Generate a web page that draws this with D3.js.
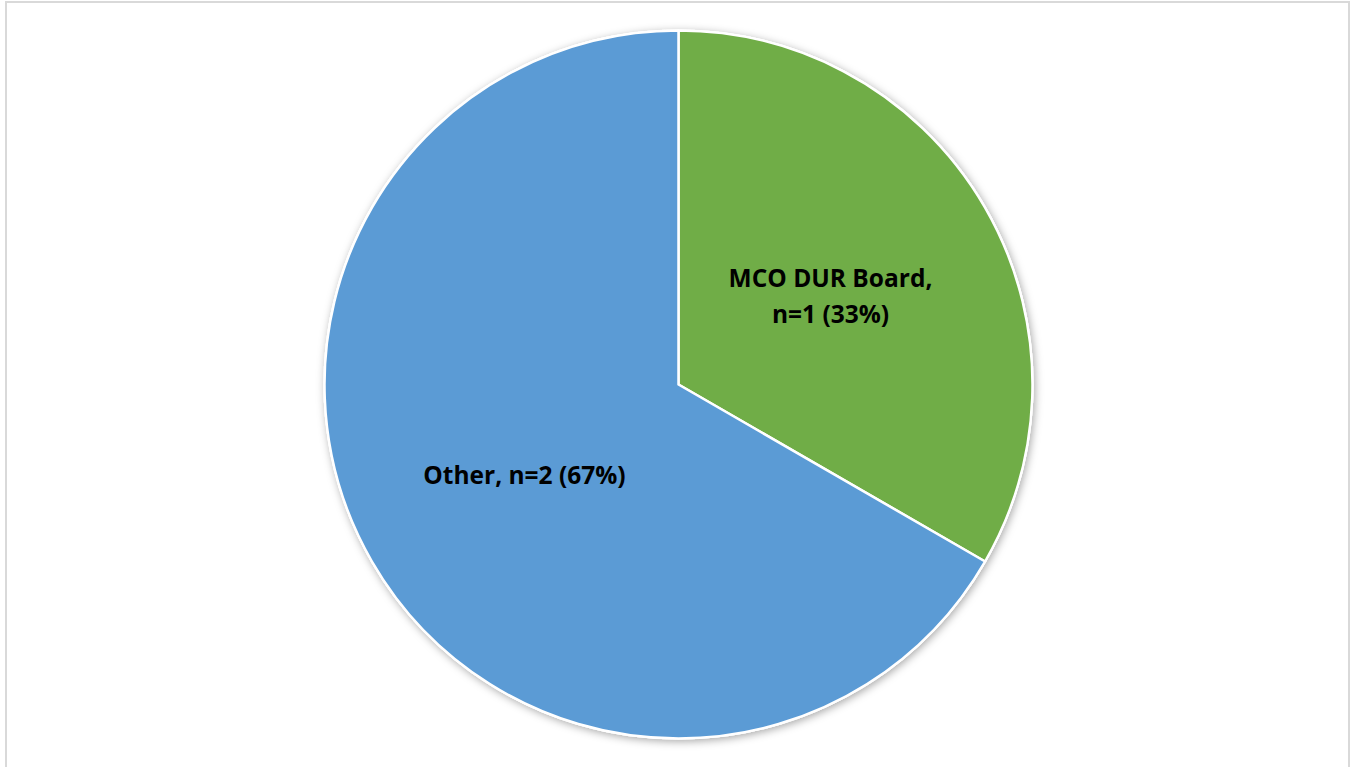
<!DOCTYPE html>
<html>
<head>
<meta charset="utf-8">
<script src="https://cdn.jsdelivr.net/npm/d3@7"></script>
<style>
  html, body { margin: 0; padding: 0; background: #fff; }
  svg { display: block; }
</style>
</head>
<body>
<svg id="chart" width="1351" height="767"></svg>
<script>
// Share of recommendations by source
const categories = ["MCO DUR Board", "Other"];
const counts = [1, 2];
const percents = [33, 67];
const colors = ["#70AD47", "#5B9BD5"];

const width = 1351, height = 767;
const cx = 678.5, cy = 384.5, radius = 354;

const svg = d3.select("#chart");

// Chart area frame
svg.append("rect")
  .attr("x", 6).attr("y", 2)
  .attr("width", 1343).attr("height", 780)
  .attr("fill", "#fff")
  .attr("stroke", "#d9d9d9")
  .attr("stroke-width", 2);

// Soft outer shadow under the pie
const defs = svg.append("defs");
const f = defs.append("filter").attr("id", "shadow")
  .attr("x", "-10%").attr("y", "-10%").attr("width", "120%").attr("height", "120%");
f.append("feDropShadow")
  .attr("dx", 1.5).attr("dy", 2)
  .attr("stdDeviation", 4)
  .attr("flood-color", "#000")
  .attr("flood-opacity", 0.35);

const data = categories.map((c, i) => ({ name: c, n: counts[i], pct: percents[i], color: colors[i] }));

const pie = d3.pie().sort(null).value(d => d.n);
const arcs = pie(data);
const arc = d3.arc().innerRadius(0).outerRadius(radius);

const g = svg.append("g").attr("transform", `translate(${cx},${cy})`);

g.append("circle").attr("r", radius + 1).attr("fill", "#fff").attr("filter", "url(#shadow)");

g.selectAll("path.slice")
  .data(arcs)
  .join("path")
  .attr("class", "slice")
  .attr("d", arc)
  .attr("fill", d => d.data.color)
  .attr("stroke", "#fff")
  .attr("stroke-width", 2.5)
  .attr("stroke-linejoin", "round");

// Data labels
const labelFont = "'Open Sans', sans-serif";
const labels = [
  { lines: [`${data[0].name},`, `n=${data[0].n} (${data[0].pct}%)`], pos: [830.5 - cx, 287 - cy] },
  { lines: [`${data[1].name}, n=${data[1].n} (${data[1].pct}%)`], pos: [524.5 - cx, 483.5 - cy] }
];

labels.forEach(l => {
  const t = g.append("text")
    .attr("text-anchor", "middle")
    .attr("font-family", labelFont)
    .attr("font-weight", "bold")
    .attr("font-size", 24.5)
    .attr("fill", "#000");
  l.lines.forEach((ln, i) => {
    t.append("tspan")
      .attr("x", l.pos[0])
      .attr("y", l.pos[1] + i * 36)
      .text(ln);
  });
});
</script>
</body>
</html>
